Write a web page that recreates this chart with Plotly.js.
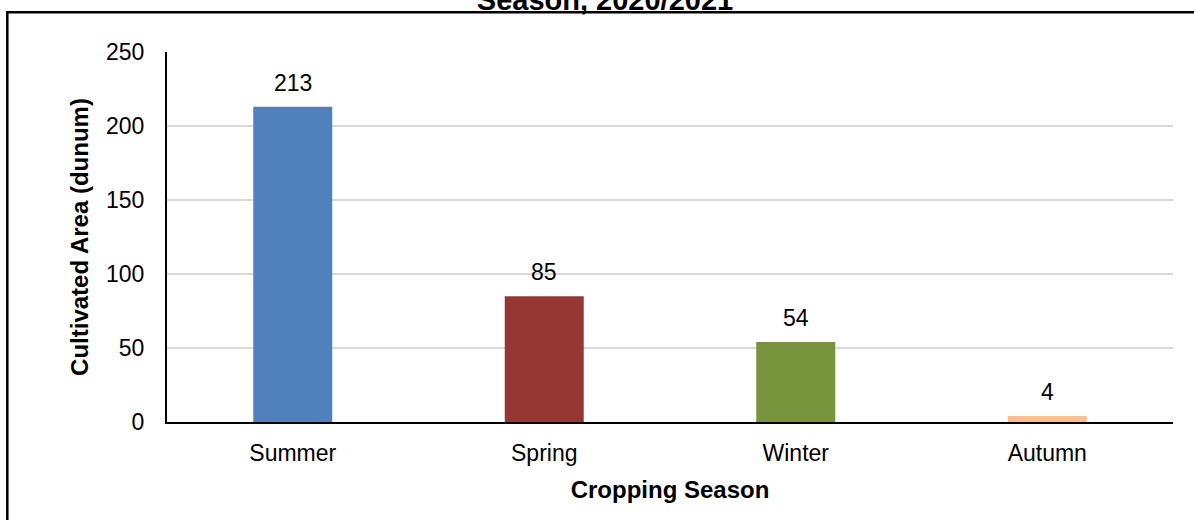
<!DOCTYPE html>
<html>
<head>
<meta charset="utf-8">
<script src="https://cdn.plot.ly/plotly-3.0.1.min.js"></script>
<style>
html,body{margin:0;padding:0;background:#fff;}
#chart{width:1194px;height:520px;}
</style>
</head>
<body>
<div id="chart"></div>
<script>
const seasons = ["Summer", "Spring", "Winter", "Autumn"];
const areas = [213, 85, 54, 4];
const barColors = ["#4F81BD", "#953735", "#77933C", "#FAC090"];
const chartTitle = "Season, 2020/2021";
const xTitle = "Cropping Season";
const yTitle = "Cultivated Area (dunum)";
const yTicks = [0, 50, 100, 150, 200, 250];

const FONT = "Liberation Sans, Arial, sans-serif";

const trace = {
  type: "bar",
  x: seasons,
  y: areas,
  marker: {color: barColors},
  width: 0.314,
  hoverinfo: "skip"
};

const annotations = seasons.map((s, i) => ({
  x: s, y: areas[i], xref: "x", yref: "y",
  text: String(areas[i]),
  showarrow: false,
  yanchor: "bottom",
  yshift: 9,
  font: {family: FONT, size: 23, color: "#000"}
}));

const layout = {
  width: 1194, height: 520,
  margin: {l: 167, r: 21, t: 52, b: 98},
  paper_bgcolor: "#fff",
  plot_bgcolor: "#fff",
  showlegend: false,
  title: {
    text: chartTitle,
    font: {family: FONT, size: 29, color: "#000", weight: "bold"},
    x: 0.5067, xanchor: "center",
    xref: "container", yref: "container",
    y: 1, yanchor: "middle"
  },
  xaxis: {
    type: "category",
    showline: true, linecolor: "#000", linewidth: 2,
    showgrid: false, ticks: "",
    tickfont: {family: FONT, size: 23, color: "#000"},
    ticklabelstandoff: 9,
    title: {text: xTitle, font: {family: FONT, size: 24, color: "#000", weight: "bold"}, standoff: 17},
    fixedrange: true
  },
  yaxis: {
    range: [0, 250],
    tickvals: yTicks,
    showline: true, linecolor: "#000", linewidth: 2,
    showgrid: true, gridcolor: "#D9D9D9", gridwidth: 1.5,
    zeroline: false, ticks: "",
    tickfont: {family: FONT, size: 23, color: "#000"},
    ticklabelstandoff: 16,
    title: {text: yTitle, font: {family: FONT, size: 24, color: "#000", weight: "bold"}, standoff: 11},
    fixedrange: true
  },
  annotations: annotations,
  shapes: [{
    type: "rect", xref: "paper", yref: "paper",
    x0: (7.3 - 167) / 1006, x1: (1200 - 167) / 1006,
    y0: (422 - 530) / 370, y1: (422 - 12.3) / 370,
    line: {color: "#000", width: 2.5},
    fillcolor: "rgba(0,0,0,0)",
    layer: "above"
  }]
};

Plotly.newPlot("chart", [trace], layout, {displayModeBar: false, staticPlot: true});
</script>
</body>
</html>
